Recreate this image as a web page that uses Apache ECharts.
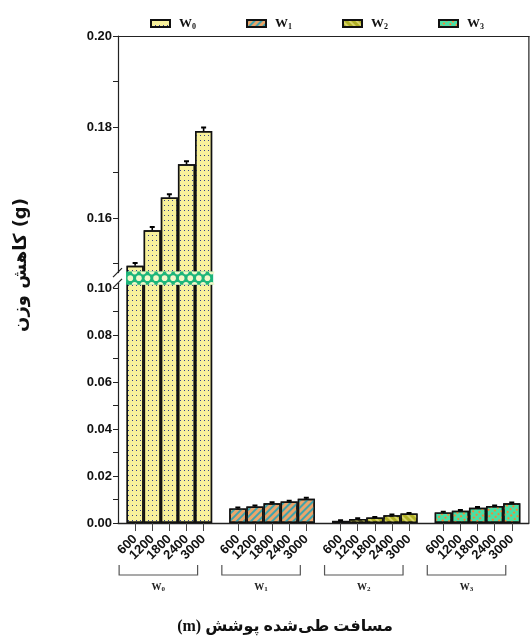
<!DOCTYPE html>
<html>
<head>
<meta charset="utf-8">
<script src="https://cdn.jsdelivr.net/npm/echarts@6/dist/echarts.min.js"></script>
<style>
  html, body { margin: 0; padding: 0; background: #fff; }
  #chart { width: 531px; height: 643px; }
</style>
</head>
<body>
<div id="chart"></div>
<script>
// Weight loss (g) after each covered distance, per coating group
const groups = ['W0', 'W1', 'W2', 'W3'];
const distances = ['600', '1200', '1800', '2400', '3000'];
const w0 = [0.1495, 0.1573, 0.1645, 0.1718, 0.1791];
const w1 = [0.0062, 0.0070, 0.0084, 0.0091, 0.0103];
const w2 = [0.0009, 0.0017, 0.0023, 0.0033, 0.0040];
const w3 = [0.0045, 0.0052, 0.0065, 0.0072, 0.0084];
const w0Err = [0.0006, 0.0007, 0.0007, 0.0007, 0.0008];
const w1Err = [0.0004, 0.0004, 0.0004, 0.0004, 0.0004];
const w2Err = [0.0003, 0.0003, 0.0003, 0.0003, 0.0003];
const w3Err = [0.0003, 0.0003, 0.0003, 0.0003, 0.0003];
const upperTicks = [0.15, 0.16, 0.17, 0.18, 0.19, 0.20];
const upperLabels = [0.16, 0.18, 0.20];
const lowerTicks = [0, 0.01, 0.02, 0.03, 0.04, 0.05, 0.06, 0.07, 0.08, 0.09, 0.10];
const lowerLabels = [0, 0.02, 0.04, 0.06, 0.08, 0.10];

const values = [w0, w1, w2, w3];
const errors = [w0Err, w1Err, w2Err, w3Err];

// Category slots: a spacer before each group, the five distances, and a closing spacer
const cats = [];
groups.forEach(g => {
  cats.push('gap-' + g);
  distances.forEach(d => cats.push(g + '|' + d));
});
cats.push('gap-end');
const slotOf = (gi, i) => 1 + gi * (distances.length + 1) + i;
const isBarSlot = idx => cats[idx].indexOf('|') >= 0;

const fills = {
  W0: { color: '#F8F19C', decal: { symbol: 'rect', symbolSize: 1, color: '#34408c', dashArrayX: [1, 3], dashArrayY: [1, 3.5], rotation: 0 } },
  W1: { color: '#EBA56A', decal: { symbol: 'rect', symbolSize: 1, color: '#3FA3AC', dashArrayX: [1, 0], dashArrayY: [1.6, 2.6], rotation: -Math.PI / 4 } },
  W2: { color: '#AFAF26', decal: { symbol: 'rect', symbolSize: 1, color: '#D8D468', dashArrayX: [1, 0], dashArrayY: [1.8, 2.4], rotation: Math.PI / 4 } },
  W3: { color: '#48E0A6', decal: { symbol: 'rect', symbolSize: 1, color: '#F0893A', dashArrayX: [2, 2], dashArrayY: [1.5, 2.5], rotation: -Math.PI / 4 } }
};

function slotData(gi, arr) {
  const out = cats.map(() => null);
  arr.forEach((v, i) => { out[slotOf(gi, i)] = v; });
  return out;
}

function barSeries(gi, gridIdx) {
  const name = groups[gi];
  return {
    name: name,
    type: 'bar',
    xAxisIndex: gridIdx,
    yAxisIndex: gridIdx,
    data: slotData(gi, values[gi]),
    barWidth: '100%',
    barGap: '-100%',
    itemStyle: {
      color: fills[name].color,
      decal: fills[name].decal,
      borderColor: '#111',
      borderWidth: 1.4
    },
    emphasis: { disabled: true },
    clip: true,
    z: 2
  };
}

function errorSeries(gi, gridIdx) {
  return {
    type: 'custom',
    xAxisIndex: gridIdx,
    yAxisIndex: gridIdx,
    clip: true,
    z: 3,
    data: values[gi].map((v, i) => [slotOf(gi, i), v, errors[gi][i]]),
    encode: { x: 0, y: 1 },
    renderItem: function (params, api) {
      const x = api.value(0), v = api.value(1), e = api.value(2);
      const p0 = api.coord([x, v]);
      const p1 = api.coord([x, v + e]);
      const half = 2.5;
      return {
        type: 'group',
        children: [
          { type: 'line', shape: { x1: p0[0], y1: p0[1], x2: p1[0], y2: p1[1] }, style: { stroke: '#000', lineWidth: 1.6 } },
          { type: 'line', shape: { x1: p1[0] - half, y1: p1[1], x2: p1[0] + half, y2: p1[1] }, style: { stroke: '#000', lineWidth: 2 } }
        ]
      };
    }
  };
}

const tickFont = { fontFamily: 'Liberation Sans', fontWeight: 'bold', fontSize: 13, color: '#111' };

const chart = echarts.init(document.getElementById('chart'), null, { renderer: 'canvas' });

const series = [];
// upper panel shows only the tall W0 bars
series.push(barSeries(0, 0));
series.push(errorSeries(0, 0));
groups.forEach((g, gi) => {
  series.push(barSeries(gi, 1));
  series.push(errorSeries(gi, 1));
});

chart.setOption({
  animation: false,
  legend: {
    data: groups,
    left: 145,
    top: 12,
    itemWidth: 19,
    itemHeight: 7,
    itemGap: 50,
    icon: 'rect',
    selectedMode: false,
    formatter: name => '{m|W}{s|' + name.slice(1) + '}',
    textStyle: {
      padding: [0, 0, 0, 4],
      rich: {
        m: { fontFamily: 'Liberation Serif', fontWeight: 'bold', fontSize: 13, color: '#111' },
        s: { fontFamily: 'Liberation Serif', fontWeight: 'bold', fontSize: 8, color: '#111', padding: [7, 0, 0, 0] }
      }
    }
  },
  grid: [
    { left: 118, right: 2, top: 36, height: 236.6 },
    { left: 118, right: 2, top: 283.3, bottom: 120 }
  ],
  xAxis: [
    {
      type: 'category', gridIndex: 0, data: cats, boundaryGap: false, position: 'top',
      axisLine: { show: true, lineStyle: { color: '#222', width: 1.2 } },
      axisTick: { show: false }, axisLabel: { show: false }, splitLine: { show: false }
    },
    {
      type: 'category', gridIndex: 1, data: cats, boundaryGap: false, position: 'bottom',
      axisLine: { show: true, lineStyle: { color: '#222', width: 1.4 } },
      axisTick: { show: true, length: 8, interval: (idx) => isBarSlot(idx), lineStyle: { color: '#444', width: 1 } },
      axisLabel: Object.assign({
        interval: 0, rotate: 45, margin: 14,
        formatter: v => (v.indexOf('|') >= 0 ? v.split('|')[1] : '')
      }, tickFont),
      splitLine: { show: false }
    }
  ],
  yAxis: [
    {
      type: 'value', gridIndex: 0, min: 0.148, max: 0.2,
      axisLine: { show: true, lineStyle: { color: '#222', width: 1.2 } },
      axisTick: { show: true, length: 5, customValues: upperTicks, lineStyle: { color: '#222' } },
      axisLabel: Object.assign({ customValues: upperLabels, margin: 6, formatter: v => v.toFixed(2) }, tickFont),
      splitLine: { show: false }
    },
    {
      type: 'value', gridIndex: 1, min: 0, max: 0.102,
      axisLine: { show: true, lineStyle: { color: '#222', width: 1.2 } },
      axisTick: { show: true, length: 5, customValues: lowerTicks, lineStyle: { color: '#222' } },
      axisLabel: Object.assign({ customValues: lowerLabels, margin: 6, formatter: v => v.toFixed(2) }, tickFont),
      splitLine: { show: false }
    }
  ],
  series: series
});

// Decorations placed from the axes: break band, break marks, frame, group brackets, titles
const px = idx => chart.convertToPixel({ xAxisIndex: 1 }, idx);
const pyU = v => chart.convertToPixel({ yAxisIndex: 0 }, v);
const pyL = v => chart.convertToPixel({ yAxisIndex: 1 }, v);

const slotW = px(1) - px(0);
const xLeft = px(0);
const xRight = px(cats.length - 1);
const yTop = pyU(0.2);
const yBreakU = pyU(0.148);
const yBreakL = pyL(0.102);
const yBase = pyL(0);

const graphics = [];

// right frame edge
graphics.push({ type: 'line', shape: { x1: xRight, y1: yTop, x2: xRight, y2: yBase }, style: { stroke: '#222', lineWidth: 1.2 }, z: 50 });

// break marks on the left axis
[yBreakU, yBreakL].forEach(y => {
  graphics.push({ type: 'line', shape: { x1: xLeft - 5, y1: y + 4.5, x2: xLeft + 4, y2: y - 4.5 }, style: { stroke: '#222', lineWidth: 1.2 }, z: 50 });
});

// break band across the W0 bars
const bandL = px(slotOf(0, 0)) - slotW / 2 - 0.5;
const bandR = px(slotOf(0, 4)) + slotW / 2 + 1;
const bandT = yBreakU - 1;
const bandB = yBreakL + 1.4;
const bandMid = (bandT + bandB) / 2;
graphics.push({ type: 'rect', shape: { x: bandL, y: bandT, width: bandR - bandL, height: bandB - bandT }, style: { fill: '#1DB57A' }, z: 60 });
const step = slotW / 2;
for (let x = bandL + step / 2; x < bandR; x += step) {
  graphics.push({ type: 'circle', shape: { cx: x, cy: bandMid, r: 2.8 }, style: { fill: '#F3F6C8' }, z: 61 });
}
for (let x = bandL + step; x < bandR - 1; x += step) {
  graphics.push({ type: 'sector', shape: { cx: x, cy: bandT, r: 2.8, r0: 0, startAngle: 0, endAngle: Math.PI }, style: { fill: '#F3F6C8' }, z: 61 });
  graphics.push({ type: 'sector', shape: { cx: x, cy: bandB, r: 2.8, r0: 0, startAngle: Math.PI, endAngle: Math.PI * 2 }, style: { fill: '#F3F6C8' }, z: 61 });
}

// group brackets under the distance labels
const brY0 = yBase + 42;
const brY1 = yBase + 52;
groups.forEach((g, gi) => {
  const a = px(slotOf(gi, 0)) - 16;
  const b = px(slotOf(gi, 4)) - 6;
  graphics.push({
    type: 'polyline',
    shape: { points: [[a, brY0], [a, brY1], [b, brY1], [b, brY0]] },
    style: { stroke: '#555', lineWidth: 1.2, fill: null },
    z: 50
  });
  graphics.push({
    type: 'text',
    x: (a + b) / 2, y: brY1 + 12,
    style: {
      text: '{m|W}{s|' + g.slice(1) + '}',
      align: 'center', verticalAlign: 'middle',
      rich: {
        m: { fontFamily: 'Liberation Serif', fontWeight: 'bold', fontSize: 10, fill: '#222' },
        s: { fontFamily: 'Liberation Serif', fontWeight: 'bold', fontSize: 7, fill: '#222', padding: [5, 0, 0, 0] }
      }
    },
    z: 50
  });
});

// axis titles
graphics.push({
  type: 'text', x: 21, y: 265, rotation: Math.PI / 2,
  style: { text: 'کاهش وزن (g)', align: 'center', verticalAlign: 'middle', fontFamily: 'DejaVu Sans', fontWeight: 'bold', fontSize: 18, fill: '#111' },
  z: 50
});
graphics.push({
  type: 'text', x: 285, y: 627,
  style: { text: '(m) مسافت طی‌شده پوشش', align: 'center', verticalAlign: 'middle', fontFamily: 'Liberation Serif, DejaVu Sans', fontWeight: 'bold', fontSize: 16, fill: '#111' },
  z: 50
});

chart.setOption({ graphic: graphics });
</script>
</body>
</html>
